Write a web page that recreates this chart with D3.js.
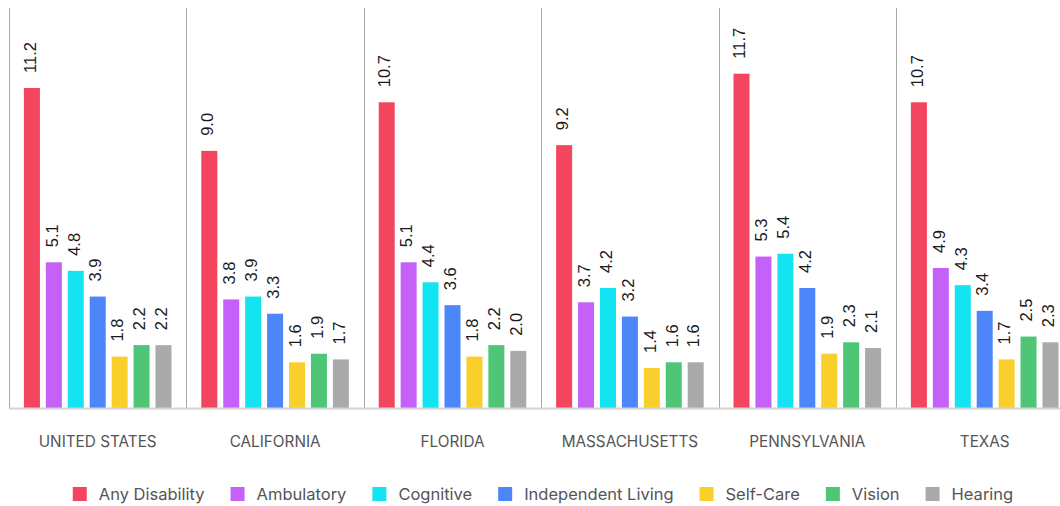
<!DOCTYPE html>
<html>
<head>
<meta charset="utf-8">
<script src="https://cdn.jsdelivr.net/npm/d3@7"></script>
<style>
  html, body { margin: 0; padding: 0; background: #fff; }
  svg { display: block; }
</style>
</head>
<body>
<svg id="chart" width="1060" height="506"></svg>
<script>
// Disability rates (%) by type and region
const regions = ["UNITED STATES", "CALIFORNIA", "FLORIDA", "MASSACHUSETTS", "PENNSYLVANIA", "TEXAS"];
const seriesNames = ["Any Disability", "Ambulatory", "Cognitive", "Independent Living", "Self-Care", "Vision", "Hearing"];
const anyDisability     = [11.2, 9.0, 10.7, 9.2, 11.7, 10.7];
const ambulatory        = [5.1, 3.8, 5.1, 3.7, 5.3, 4.9];
const cognitive         = [4.8, 3.9, 4.4, 4.2, 5.4, 4.3];
const independentLiving = [3.9, 3.3, 3.6, 3.2, 4.2, 3.4];
const selfCare          = [1.8, 1.6, 1.8, 1.4, 1.9, 1.7];
const vision            = [2.2, 1.9, 2.2, 1.6, 2.3, 2.5];
const hearing           = [2.2, 1.7, 2.0, 1.6, 2.1, 2.3];
const seriesColors = ["#f4455f", "#c561f8", "#14e3f2", "#4c86f9", "#f9cf2b", "#4ec676", "#aaaaaa"];

const seriesValues = [anyDisability, ambulatory, cognitive, independentLiving, selfCare, vision, hearing];
const rows = regions.map((r, i) => ({
  region: r,
  values: seriesNames.map((s, j) => ({ key: s, value: seriesValues[j][i] }))
}));

const svg = d3.select("#chart");
const left = 9, groupW = 177.4, baseY = 408, topY = 8;

const x0 = d3.scaleBand().domain(regions).range([left, left + groupW * regions.length]).padding(0);
const x1 = d3.scaleBand().domain(seriesNames).range([0, x0.bandwidth()])
  .paddingInner(0.27).paddingOuter(0.68);
const y = d3.scaleLinear().domain([0, 14]).range([baseY, topY]);
const color = d3.scaleOrdinal().domain(seriesNames).range(seriesColors);

// group separators and left edge
svg.append("g").selectAll("line")
  .data(regions)
  .join("line")
  .attr("x1", d => Math.round(x0(d)) + 0.5)
  .attr("x2", d => Math.round(x0(d)) + 0.5)
  .attr("y1", topY)
  .attr("y2", baseY)
  .attr("stroke", "#a8a8a8")
  .attr("stroke-width", 1);

// bars
const groups = svg.append("g").selectAll("g")
  .data(rows)
  .join("g")
  .attr("transform", d => `translate(${x0(d.region)},0)`);

groups.selectAll("rect")
  .data(d => d.values)
  .join("rect")
  .attr("x", d => x1(d.key))
  .attr("width", x1.bandwidth())
  .attr("y", d => y(d.value))
  .attr("height", d => y(0) - y(d.value))
  .attr("fill", d => color(d.key));

// value labels, rotated to read upwards
groups.selectAll("text")
  .data(d => d.values)
  .join("text")
  .attr("transform", d => `translate(${x1(d.key) + x1.bandwidth() / 2 - 2},${y(d.value) - 15}) rotate(-90)`)
  .attr("dy", "0.35em")
  .attr("text-anchor", "start")
  .attr("font-family", "'Liberation Sans', Arial, sans-serif")
  .attr("font-size", 16.5)
  .attr("fill", "#1a1a1a")
  .text(d => d.value.toFixed(1));

// baseline
svg.append("line")
  .attr("x1", left).attr("x2", 1060)
  .attr("y1", baseY + 0.5).attr("y2", baseY + 0.5)
  .attr("stroke", "#d4d4d4").attr("stroke-width", 2);

// region labels
const xAxis = svg.append("g")
  .attr("transform", `translate(0,${baseY})`)
  .call(d3.axisBottom(x0).tickSize(0).tickPadding(0));
xAxis.select(".domain").remove();
xAxis.selectAll("text")
  .attr("y", 39)
  .attr("dy", 0)
  .attr("font-family", "Inter, 'Noto Sans', sans-serif")
  .attr("font-size", 15.3)
  .attr("fill", "#555");

// legend
const legend = svg.append("g").attr("transform", "translate(0,487)");
const items = legend.selectAll("g")
  .data(seriesNames)
  .join("g");
items.append("rect")
  .attr("width", 14).attr("height", 14)
  .attr("fill", d => color(d));
items.append("text")
  .attr("x", 26).attr("y", 13)
  .attr("font-family", "Inter, 'Noto Sans', sans-serif")
  .attr("font-size", 16.5)
  .attr("fill", "#555")
  .text(d => d);

const gap = 26;
let cursor = 0;
const offsets = [];
items.each(function () {
  const w = d3.select(this).select("text").node().getComputedTextLength();
  offsets.push(cursor);
  cursor += 26 + w + gap;
});
const total = cursor - gap;
const startX = 543 - total / 2;
items.attr("transform", (d, i) => `translate(${startX + offsets[i]},0)`);
</script>
</body>
</html>
